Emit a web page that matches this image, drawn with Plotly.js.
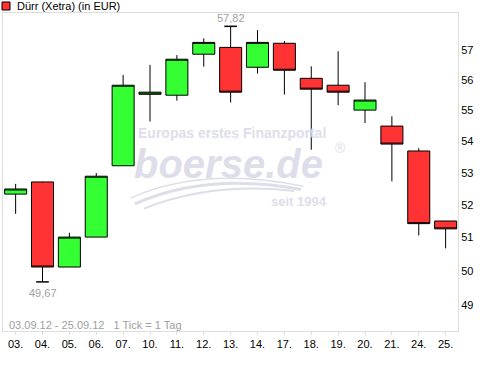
<!DOCTYPE html>
<html>
<head>
<meta charset="utf-8">
<script src="https://cdn.plot.ly/plotly-3.0.1.min.js"></script>
<style>html,body{margin:0;padding:0;background:#fff;}#chart{width:500px;height:365px;}</style>
</head>
<body>
<div id="chart"></div>
<script>
const days   = ['03.','04.','05.','06.','07.','10.','11.','12.','13.','14.','17.','18.','19.','20.','21.','24.','25.'];
const opens  = [52.33, 52.71, 50.11, 51.01, 53.22, 55.53, 55.50, 56.87, 57.10, 56.43, 57.24, 56.06, 55.83, 55.01, 54.49, 53.69, 51.50];
const highs  = [52.65, 52.72, 51.14, 52.99, 56.17, 56.51, 56.84, 57.41, 57.82, 57.69, 57.32, 56.46, 56.97, 55.93, 54.81, 53.78, 51.50];
const lows   = [51.72, 49.67, 50.11, 51.01, 53.22, 54.64, 55.32, 56.45, 55.26, 56.22, 55.52, 53.73, 55.17, 54.59, 52.73, 51.06, 50.67];
const closes = [52.49, 50.11, 51.01, 52.89, 55.83, 55.60, 56.70, 57.27, 55.60, 57.27, 56.33, 55.70, 55.60, 55.34, 53.91, 51.42, 51.26];
const yTicks = [49, 50, 51, 52, 53, 54, 55, 56, 57];
const seriesName = 'Dürr (Xetra) (in EUR)';
const periodText = '03.09.12 - 25.09.12\u00a0\u00a0\u00a01 Tick = 1 Tag';

const iMax = highs.indexOf(Math.max(...highs));
const iMin = lows.indexOf(Math.min(...lows));
const fmt = v => v.toFixed(2).replace('.', ',');

const FONT = 'Liberation Sans, Arial, sans-serif';
const WM = '#dedeeb';

const traces = [
  {
    type: 'candlestick',
    x: days, open: opens, high: highs, low: lows, close: closes,
    increasing: {line: {color: '#000', width: 1}, fillcolor: '#33ff33'},
    decreasing: {line: {color: '#000', width: 1}, fillcolor: '#ff3333'},
    whiskerwidth: 0,
    showlegend: false, hoverinfo: 'skip'
  },
  {
    type: 'scatter', mode: 'markers',
    x: [days[iMax], days[iMin]], y: [highs[iMax], lows[iMin]],
    marker: {symbol: 'line-ew-open', size: 9, color: '#000', line: {color: '#000', width: 1.5}},
    showlegend: false, hoverinfo: 'skip'
  }
];

const layout = {
  width: 500, height: 365,
  margin: {l: 3, r: 42, t: 13, b: 34},
  paper_bgcolor: '#fff', plot_bgcolor: '#fff',
  font: {family: FONT, size: 11, color: '#000'},
  showlegend: false,
  boxgap: 0.18, boxgroupgap: 0,
  xaxis: {
    type: 'category', range: [-0.47, 16.46],
    rangeslider: {visible: false},
    showgrid: false, zeroline: false,
    showline: true, linecolor: '#dddddd', linewidth: 1, mirror: true,
    ticks: 'outside', ticklen: 3, tickcolor: '#dddddd',
    tickfont: {family: FONT, size: 11, color: '#000'}
  },
  yaxis: {
    type: 'log', side: 'right',
    range: [Math.log10(48.24), Math.log10(58.28)],
    tickvals: yTicks, ticktext: yTicks.map(String),
    showgrid: false, zeroline: false,
    showline: true, linecolor: '#dddddd', linewidth: 1, mirror: true,
    ticks: '', ticklen: 0,
    tickfont: {family: FONT, size: 11, color: '#000'}
  },
  shapes: [
    {type: 'rect', xref: 'paper', yref: 'paper', x0: -0.0022, x1: 0.0154, y0: 1.0094, y1: 1.0346,
     fillcolor: '#ff3333', line: {color: '#000', width: 1}},
    {type: 'path', xref: 'paper', yref: 'paper', layer: 'below',
     path: 'M 0.290 0.400 Q 0.45 0.50 0.655 0.445', line: {color: WM, width: 3}},
    {type: 'path', xref: 'paper', yref: 'paper', layer: 'below',
     path: 'M 0.310 0.385 Q 0.46 0.47 0.640 0.440', line: {color: WM, width: 2}},
    {type: 'path', xref: 'paper', yref: 'paper', layer: 'below',
     path: 'M 0.280 0.418 Q 0.44 0.52 0.660 0.455', line: {color: WM, width: 1.5}}
  ],
  annotations: [
    {xref: 'paper', yref: 'paper', x: 0.0264, y: 1.022, xanchor: 'left', yanchor: 'middle',
     text: seriesName, showarrow: false, font: {family: FONT, size: 11, color: '#000'}},
    {xref: 'paper', yref: 'paper', x: 0.009, y: 0.019, xanchor: 'left', yanchor: 'middle',
     text: periodText, showarrow: false, font: {family: FONT, size: 11, color: '#a0a0a0'}},
    {xref: 'x', yref: 'y', x: iMax, y: Math.log10(highs[iMax]), xanchor: 'center', yanchor: 'bottom',
     yshift: 0, text: fmt(highs[iMax]), showarrow: false, font: {family: FONT, size: 11, color: '#a0a0a0'}},
    {xref: 'x', yref: 'y', x: iMin, y: Math.log10(lows[iMin]), xanchor: 'center', yanchor: 'top',
     yshift: -3, text: fmt(lows[iMin]), showarrow: false, font: {family: FONT, size: 11, color: '#a0a0a0'}},
    {xref: 'paper', yref: 'paper', x: 0.503, y: 0.623, xanchor: 'center', yanchor: 'middle',
     text: '<b>Europas erstes Finanzportal</b>', showarrow: false, font: {family: FONT, size: 14, color: WM}},
    {xref: 'paper', yref: 'paper', x: 0.495, y: 0.525, xanchor: 'center', yanchor: 'middle',
     text: '<b><i>boerse.de</i></b>', showarrow: false, font: {family: FONT, size: 40, color: WM}},
    {xref: 'paper', yref: 'paper', x: 0.742, y: 0.575, xanchor: 'center', yanchor: 'middle',
     text: '®', showarrow: false, font: {family: FONT, size: 14, color: WM}},
    {xref: 'paper', yref: 'paper', x: 0.651, y: 0.406, xanchor: 'center', yanchor: 'middle',
     text: '<b>seit 1994</b>', showarrow: false, font: {family: FONT, size: 13, color: WM}}
  ]
};

Plotly.newPlot('chart', traces, layout, {staticPlot: true, displayModeBar: false});
</script>
</body>
</html>
